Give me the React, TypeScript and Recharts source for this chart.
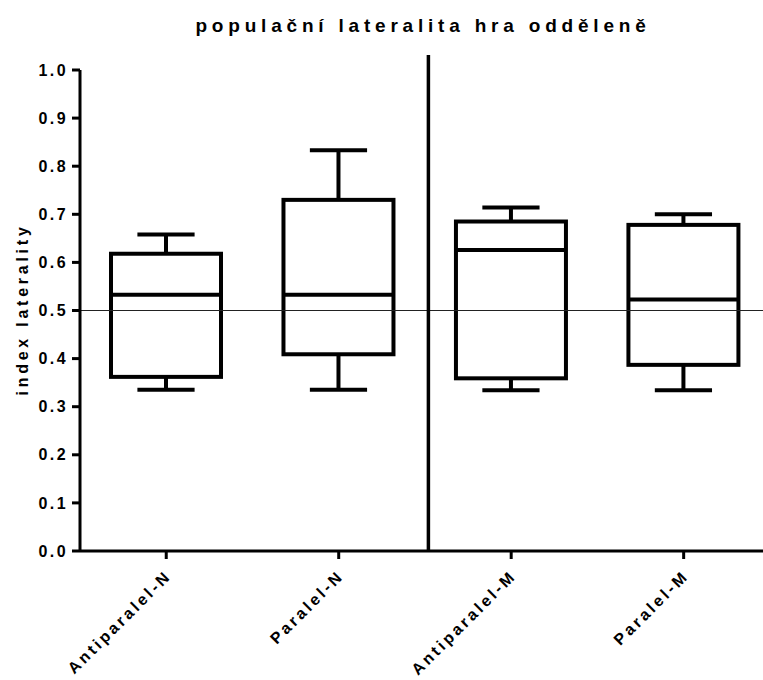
import React from 'react';
import { ComposedChart, Bar, XAxis, YAxis, ReferenceLine } from 'recharts';

const categories = ['Antiparalel-N', 'Paralel-N', 'Antiparalel-M', 'Paralel-M'];
const minVals = [0.335, 0.335, 0.334, 0.334];
const q1Vals = [0.362, 0.409, 0.359, 0.387];
const medianVals = [0.533, 0.533, 0.626, 0.523];
const q3Vals = [0.618, 0.730, 0.685, 0.678];
const maxVals = [0.658, 0.833, 0.714, 0.700];
const yTicks = [0, 0.1, 0.2, 0.3, 0.4, 0.5, 0.6, 0.7, 0.8, 0.9, 1.0];
const xTicks = [0, 1, 2, 3];
const referenceValue = 0.5;
const separatorX = 1.52;
const separatorTop = 1.031;

const data = categories.map((name, i) => ({
  x: i,
  name,
  min: minVals[i],
  q1: q1Vals[i],
  median: medianVals[i],
  q3: q3Vals[i],
  max: maxVals[i],
  box: [q1Vals[i], q3Vals[i]],
}));

const FONT = '"Liberation Sans", Arial, sans-serif';

const BoxShape = (props: any) => {
  const { x, y, width, height, payload } = props;
  if (x == null || y == null) return null;
  const top = Math.min(y, y + height);
  const h = Math.abs(height);
  const ppu = h / (payload.q3 - payload.q1);
  const pix = (v: number) => top + (payload.q3 - v) * ppu;
  const cx = x + width / 2;
  const capHalf = width * 0.26;
  const sw = 4;
  return (
    <g>
      <line x1={cx} x2={cx} y1={pix(payload.q3)} y2={pix(payload.max)} stroke="#000" strokeWidth={sw} />
      <line x1={cx - capHalf} x2={cx + capHalf} y1={pix(payload.max)} y2={pix(payload.max)} stroke="#000" strokeWidth={sw} />
      <line x1={cx} x2={cx} y1={pix(payload.q1)} y2={pix(payload.min)} stroke="#000" strokeWidth={sw} />
      <line x1={cx - capHalf} x2={cx + capHalf} y1={pix(payload.min)} y2={pix(payload.min)} stroke="#000" strokeWidth={sw} />
      <rect x={x} y={top} width={width} height={h} fill="none" stroke="#000" strokeWidth={sw} />
      <line x1={x} x2={x + width} y1={pix(payload.median)} y2={pix(payload.median)} stroke="#000" strokeWidth={sw} />
    </g>
  );
};

const XTick = (props: any) => {
  const { x, y, payload } = props;
  const label = categories[payload.value] ?? '';
  return (
    <text
      x={x}
      y={y}
      dx={3}
      dy="0.35em"
      transform={`rotate(-45 ${x} ${y})`}
      textAnchor="end"
      fontFamily={FONT}
      fontWeight="bold"
      fontSize={16}
      letterSpacing={3}
      fill="#000"
    >
      {label}
    </text>
  );
};

const YTick = (props: any) => {
  const { x, y, payload } = props;
  return (
    <text
      x={x}
      y={y}
      dy="0.355em"
      textAnchor="end"
      fontFamily={FONT}
      fontWeight="bold"
      fontSize={16}
      letterSpacing={2.4}
      fill="#000"
    >
      {Number(payload.value).toFixed(1)}
    </text>
  );
};

const YLabel = () => (
  <text
    x={27.5}
    y={309.5}
    transform="rotate(-90 27.5 309.5)"
    textAnchor="middle"
    fontFamily={FONT}
    fontWeight="bold"
    fontSize={16}
    letterSpacing={3.75}
    fill="#000"
  >
    index laterality
  </text>
);

export default function App() {
  return (
    <div style={{ position: 'relative', width: 763, height: 680, background: '#fff' }}>
      <style>{`body{margin:0;}`}</style>
      <div
        style={{
          position: 'absolute',
          left: 100,
          width: 646,
          top: 15,
          lineHeight: '22px',
          textAlign: 'center',
          fontFamily: FONT,
          fontWeight: 'bold',
          fontSize: 19,
          letterSpacing: 4.8,
          color: '#000',
          whiteSpace: 'nowrap',
        }}
      >
        populační lateralita hra odděleně
      </div>
      <ComposedChart
        width={763}
        height={680}
        data={data}
        margin={{ top: 70, right: 0, bottom: 0, left: 0 }}
      >
        <XAxis
          dataKey="x"
          type="number"
          domain={[-0.5, 3.46]}
          ticks={xTicks}
          interval={0}
          height={129}
          axisLine={{ stroke: '#000', strokeWidth: 3 }}
          tickLine={{ stroke: '#000', strokeWidth: 3 }}
          tickSize={8}
          tickMargin={16}
          tick={<XTick />}
          allowDataOverflow
        />
        <YAxis
          type="number"
          domain={[0, 1]}
          ticks={yTicks}
          interval={0}
          width={80}
          axisLine={{ stroke: '#000', strokeWidth: 3 }}
          tickLine={{ stroke: '#000', strokeWidth: 3 }}
          tickSize={8}
          tickMargin={4}
          tick={<YTick />}
          label={<YLabel />}
          allowDataOverflow
        />
        <ReferenceLine y={referenceValue} stroke="#222" strokeWidth={1} />
        <Bar dataKey="box" barSize={110} isAnimationActive={false} shape={<BoxShape />} />
        <ReferenceLine
          segment={[{ x: separatorX, y: 0 }, { x: separatorX, y: separatorTop }]}
          stroke="#000"
          strokeWidth={3.5}
          ifOverflow="visible"
        />
      </ComposedChart>
    </div>
  );
}
